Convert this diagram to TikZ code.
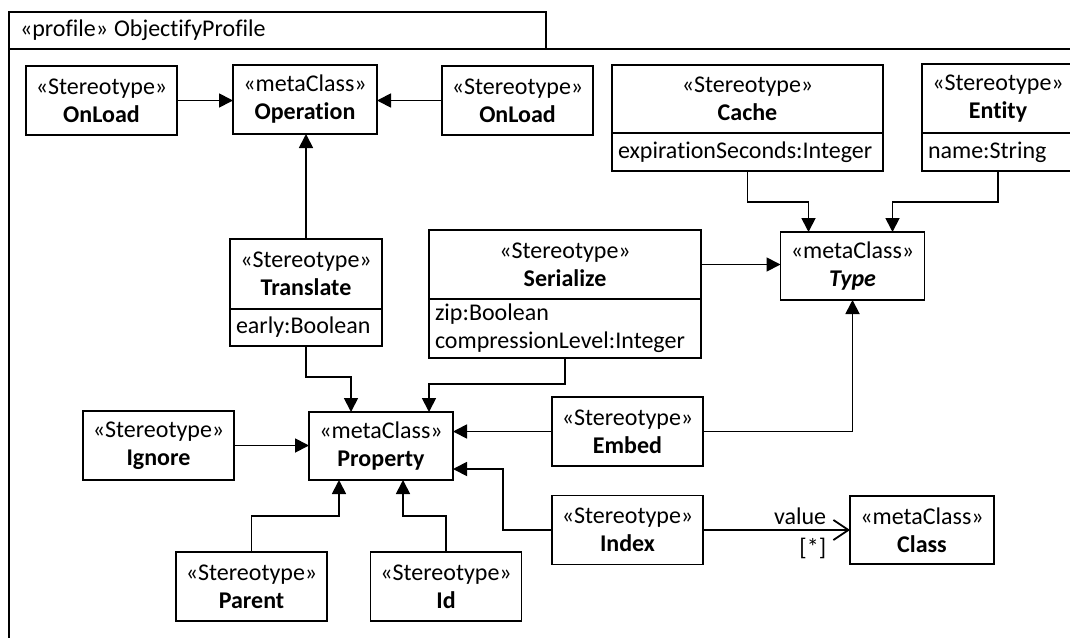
\documentclass[tikz,border=0pt]{standalone}
\usepackage{fontspec}
\setmainfont{Carlito}[Ligatures=NoCommon]
\usetikzlibrary{arrows.meta,calc}

\begin{document}
\begin{tikzpicture}[
  x=1pt, y=-1pt,
  font=\fontsize{24}{28}\selectfont,
  line width=1.8pt,
  box/.style={draw, align=center, inner sep=0pt, outer sep=0pt, minimum width=151pt, minimum height=69pt},
  meta/.style={box, minimum width=144pt},
  attr/.style={draw, anchor=north, align=left, inner xsep=6pt, inner ysep=0pt, outer sep=0pt},
  ext/.style={-{Triangle[length=14pt,width=14pt]}},
  assoc/.style={-{Straight Barb[length=15pt,width=20pt]}}
]
\useasboundingbox (0,0) rectangle (1070,637);

% profile frame
\node[draw, anchor=north west, outer sep=0pt, minimum width=537pt, minimum height=37pt, inner xsep=11pt,
      text width=515pt, align=left] (tab) at (9,12) {«profile»\hspace{6pt}ObjectifyProfile};
\draw (tab.south west) rectangle (1085,650);

% operation side
\node[box] (onloadl) at (101.5,100.5) {«Stereotype»\\\textbf{OnLoad}};
\node[meta] (operation) at (305,99.5) {«metaClass»\\\textbf{Operation}};
\node[box] (onloadr) at (517.5,100.5) {«Stereotype»\\\textbf{OnLoad}};

% type side
\node[box, minimum width=271pt, minimum height=68pt] (cache) at (747.5,99) {«Stereotype»\\\textbf{Cache}};
\node[attr, text width=259pt, minimum height=38pt] (cacheattr) at (cache.south) {expirationSeconds:Integer};
\node[box, minimum width=152pt] (entity) at (998,98.5) {«Stereotype»\\\textbf{Entity}};
\node[attr, text width=140pt, minimum height=38pt] (entityattr) at (entity.south) {name:String};
\node[meta, minimum height=68pt] (type) at (852.5,266) {«metaClass»\\\textbf{\textit{Type}}};

% property side
\node[box, minimum width=152pt, minimum height=70pt] (translate) at (306,274) {«Stereotype»\\\textbf{Translate}};
\node[attr, text width=140pt, minimum height=37pt] (translateattr) at (translate.south) {early:Boolean};
\node[box, minimum width=272pt] (serialize) at (565,264.5) {«Stereotype»\\\textbf{Serialize}};
\node[attr, text width=260pt, minimum height=59pt] (serializeattr) at (serialize.south) {zip:Boolean\\compressionLevel:Integer};
\node[meta, minimum height=68pt] (property) at (381,446) {«metaClass»\\\textbf{Property}};
\node[box] (ignore) at (158.5,445.5) {«Stereotype»\\\textbf{Ignore}};
\node[box] (embed) at (627.5,431.5) {«Stereotype»\\\textbf{Embed}};
\node[box] (index) at (627.5,530) {«Stereotype»\\\textbf{Index}};
\node[meta, minimum height=68pt] (cls) at (922,530) {«metaClass»\\\textbf{Class}};
\node[box] (parent) at (251.5,586.5) {«Stereotype»\\\textbf{Parent}};
\node[box] (id) at (446,586.5) {«Stereotype»\\\textbf{Id}};

\draw[ext] (onloadl.east) -- (onloadl.east -| operation.west);
\draw[ext] (onloadr.west) -- (onloadr.west -| operation.east);
\draw[ext] (translate.north) -- (translate.north |- operation.south);
\draw[ext] (translateattr.south) -- ++(0,31) -| ([xshift=-30pt]property.north);
\draw[ext] (serializeattr.south) -- ++(0,26) -| ([xshift=48pt]property.north);
\draw[ext] (serialize.east) -- (serialize.east -| type.west);
\draw[ext] (cacheattr.south) -- ++(0,31) -| ([xshift=-44pt]type.north);
\draw[ext] (entityattr.south) -- ++(0,31) -| ([xshift=40pt]type.north);
\draw[ext] (embed.east) -| (type.south);
\draw[ext] (embed.west) -- (embed.west -| property.east);
\draw[ext] (ignore.east) -- (ignore.east -| property.west);
\draw[ext] (index.west) -- ++(-49,0) |- ([yshift=-23pt]property.east);
\draw[ext] (parent.north) -- ++(0,-36) -| ([xshift=-42pt]property.south);
\draw[ext] (id.north) -- ++(0,-36) -| ([xshift=22pt]property.south);
\draw[assoc] (index) -- (cls)
  node[pos=1, anchor=south east, xshift=-22pt, yshift=3pt, inner sep=1pt] (valuelbl) {value}
  node[pos=1, anchor=north east, xshift=-22pt, yshift=-6pt, inner sep=1pt] (multlbl) {[*]};
\end{tikzpicture}
\end{document}
